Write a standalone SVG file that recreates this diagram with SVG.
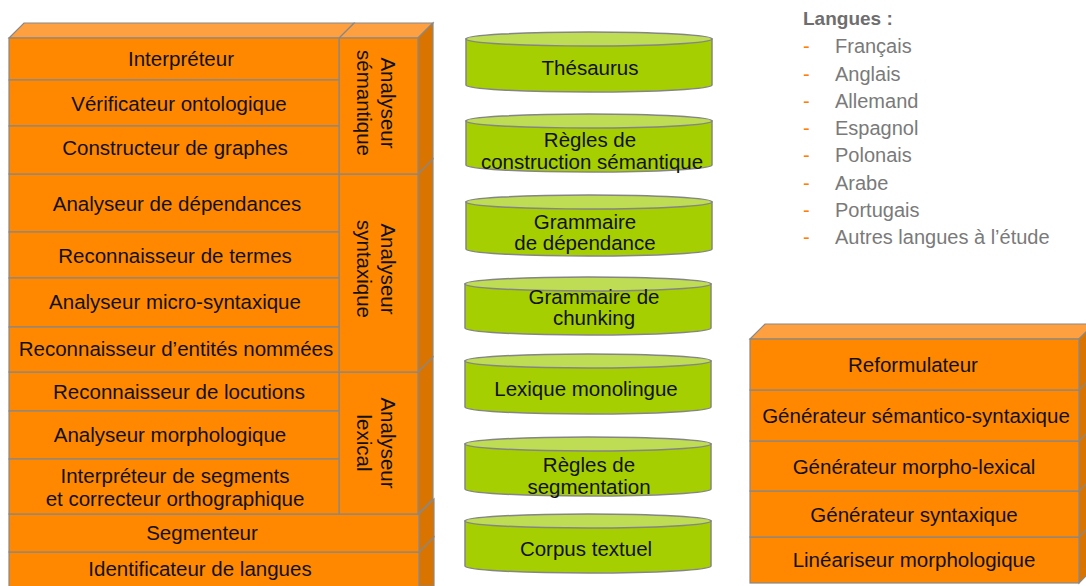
<svg xmlns="http://www.w3.org/2000/svg" width="1086" height="586" viewBox="0 0 1086 586">
<style>
.f{fill:#ff8800;stroke:#888;stroke-width:1.2}
.t{fill:#ffa040;stroke:#888;stroke-width:1.2}
.s{fill:#d97400;stroke:#888;stroke-width:1.2}
.lb{font-family:"Liberation Sans",Arial,sans-serif;font-size:20.5px;fill:#111;text-anchor:middle}
.cb{fill:#a5cf00;stroke:#858585;stroke-width:1.5}
.ct{fill:#bedd55;stroke:#858585;stroke-width:1.5}
.lg{font-family:"Liberation Sans",Arial,sans-serif;font-size:20px;fill:#7a7a7a}
.dash{font-family:"Liberation Sans",Arial,sans-serif;font-size:20px;fill:#ff8000}
</style>
<rect width="1086" height="586" fill="#fff"/>

<!-- Left stack -->
<g id="identificateur">
<polygon class="s" points="419,552 434,537 434,586 419,586"/>
<rect class="f" x="9" y="552" width="410" height="40"/>
<text class="lb" x="200" y="576">Identificateur de langues</text>
</g>
<g id="segmenteur">
<polygon class="s" points="419,514 434,499 434,537 419,552"/>
<rect class="f" x="9" y="514" width="410" height="38"/>
<text class="lb" x="202" y="540">Segmenteur</text>
</g>
<g id="analyseur-lexical">
<polygon class="s" points="418,372 433,357 433,499 418,514"/>
<rect class="f" x="339" y="372" width="79" height="142"/>
<text class="lb" transform="translate(378.5,443) rotate(90)"><tspan x="0" y="-2">Analyseur</tspan><tspan x="0" y="22">lexical</tspan></text>
</g>
<g id="reconnaisseur-locutions">
<rect class="f" x="9" y="372" width="330" height="39"/>
<text class="lb" x="179" y="399">Reconnaisseur de locutions</text>
</g>
<g id="analyseur-morphologique">
<rect class="f" x="9" y="411" width="330" height="48"/>
<text class="lb" x="170" y="442">Analyseur morphologique</text>
</g>
<g id="interpreteur-segments">
<rect class="f" x="9" y="459" width="330" height="55"/>
<text class="lb" x="175" y="483">Interpréteur de segments</text>
<text class="lb" x="175" y="506">et correcteur orthographique</text>
</g>
<g id="analyseur-syntaxique">
<polygon class="s" points="418,174 433,159 433,357 418,372"/>
<rect class="f" x="339" y="174" width="79" height="198"/>
<text class="lb" transform="translate(378.5,269) rotate(90)"><tspan x="0" y="-2">Analyseur</tspan><tspan x="0" y="22">syntaxique</tspan></text>
</g>
<g id="analyseur-dependances">
<rect class="f" x="9" y="174" width="330" height="58"/>
<text class="lb" x="177" y="211">Analyseur de dépendances</text>
</g>
<g id="reconnaisseur-termes">
<rect class="f" x="9" y="232" width="330" height="46"/>
<text class="lb" x="175" y="263">Reconnaisseur de termes</text>
</g>
<g id="analyseur-micro-syntaxique">
<rect class="f" x="9" y="278" width="330" height="49"/>
<text class="lb" x="175" y="309">Analyseur micro-syntaxique</text>
</g>
<g id="reconnaisseur-entites">
<rect class="f" x="9" y="327" width="330" height="45"/>
<text class="lb" x="176" y="356">Reconnaisseur d’entités nommées</text>
</g>
<g id="analyseur-semantique">
<polygon class="t" points="339,38 354,23 433,23 418,38"/>
<polygon class="s" points="418,38 433,23 433,159 418,174"/>
<rect class="f" x="339" y="38" width="79" height="136"/>
<text class="lb" transform="translate(378.5,103) rotate(90)"><tspan x="0" y="-2">Analyseur</tspan><tspan x="0" y="22">sémantique</tspan></text>
</g>
<g id="interpreteur">
<polygon class="t" points="9,38 24,23 354,23 339,38"/>
<rect class="f" x="9" y="38" width="330" height="42"/>
<text class="lb" x="181" y="66">Interpréteur</text>
</g>
<g id="verificateur">
<rect class="f" x="9" y="80" width="330" height="46"/>
<text class="lb" x="179" y="111">Vérificateur ontologique</text>
</g>
<g id="constructeur">
<rect class="f" x="9" y="126" width="330" height="48"/>
<text class="lb" x="175" y="155">Constructeur de graphes</text>
</g>

<!-- Cylinders -->
<g id="thesaurus">
<path class="cb" d="M466,39 L466,85 A123,7 0 0 0 712,85 L712,39 Z"/>
<ellipse class="ct" cx="589" cy="39" rx="123" ry="7"/>
<text class="lb" x="590" y="75">Thésaurus</text>
</g>
<g id="regles-construction">
<path class="cb" d="M466,121 L466,165 A123,7 0 0 0 712,165 L712,121 Z"/>
<ellipse class="ct" cx="589" cy="121" rx="123" ry="7"/>
<text class="lb" x="590" y="147">Règles de</text>
<text class="lb" x="592" y="169">construction sémantique</text>
</g>
<g id="grammaire-dependance">
<path class="cb" d="M466,202 L466,249 A123,7 0 0 0 712,249 L712,202 Z"/>
<ellipse class="ct" cx="589" cy="202" rx="123" ry="7"/>
<text class="lb" x="585" y="229">Grammaire</text>
<text class="lb" x="585" y="250">de dépendance</text>
</g>
<g id="grammaire-chunking">
<path class="cb" d="M465,284 L465,328 A123,7 0 0 0 711,328 L711,284 Z"/>
<ellipse class="ct" cx="588" cy="284" rx="123" ry="7"/>
<text class="lb" x="594" y="304">Grammaire de</text>
<text class="lb" x="594" y="325">chunking</text>
</g>
<g id="lexique">
<path class="cb" d="M465,361 L465,407 A123,7 0 0 0 711,407 L711,361 Z"/>
<ellipse class="ct" cx="588" cy="361" rx="123" ry="7"/>
<text class="lb" x="586" y="396">Lexique monolingue</text>
</g>
<g id="regles-segmentation">
<path class="cb" d="M465,444 L465,489 A123,7 0 0 0 711,489 L711,444 Z"/>
<ellipse class="ct" cx="588" cy="444" rx="123" ry="7"/>
<text class="lb" x="589" y="472">Règles de</text>
<text class="lb" x="589" y="494">segmentation</text>
</g>
<g id="corpus">
<path class="cb" d="M465,521 L465,566 A123,7 0 0 0 711,566 L711,521 Z"/>
<ellipse class="ct" cx="588" cy="521" rx="123" ry="7"/>
<text class="lb" x="586" y="556">Corpus textuel</text>
</g>

<!-- Right stack -->
<g id="linearisateur">
<polygon class="s" points="1079,537 1094,522 1094,568 1079,583"/>
<rect class="f" x="750" y="537" width="329" height="46"/>
<text class="lb" x="914" y="567">Linéariseur morphologique</text>
</g>
<g id="generateur-syntaxique">
<polygon class="s" points="1079,491 1094,476 1094,522 1079,537"/>
<rect class="f" x="750" y="491" width="329" height="46"/>
<text class="lb" x="914" y="522">Générateur syntaxique</text>
</g>
<g id="generateur-morpho-lexical">
<polygon class="s" points="1079,441 1094,426 1094,476 1079,491"/>
<rect class="f" x="750" y="441" width="329" height="50"/>
<text class="lb" x="914" y="474">Générateur morpho-lexical</text>
</g>
<g id="generateur-semantico">
<polygon class="s" points="1079,390 1094,375 1094,426 1079,441"/>
<rect class="f" x="750" y="390" width="329" height="51"/>
<text class="lb" x="916" y="423">Générateur sémantico-syntaxique</text>
</g>
<g id="reformulateur">
<polygon class="t" points="750,339 765,324 1094,324 1079,339"/>
<polygon class="s" points="1079,339 1094,324 1094,375 1079,390"/>
<rect class="f" x="750" y="339" width="329" height="51"/>
<text class="lb" x="913" y="372">Reformulateur</text>
</g>

<!-- Languages -->
<g id="langues">
<text x="803" y="25" style="font-family:'Liberation Sans',Arial,sans-serif;font-size:19px;font-weight:bold;fill:#6e6e6e">Langues :</text>
<text class="dash" x="803" y="53">-</text><text class="lg" x="835" y="53">Français</text>
<text class="dash" x="803" y="80.5">-</text><text class="lg" x="835" y="80.5">Anglais</text>
<text class="dash" x="803" y="107.5">-</text><text class="lg" x="835" y="107.5">Allemand</text>
<text class="dash" x="803" y="135">-</text><text class="lg" x="835" y="135">Espagnol</text>
<text class="dash" x="803" y="162">-</text><text class="lg" x="835" y="162">Polonais</text>
<text class="dash" x="803" y="189.5">-</text><text class="lg" x="835" y="189.5">Arabe</text>
<text class="dash" x="803" y="217">-</text><text class="lg" x="835" y="217">Portugais</text>
<text class="dash" x="803" y="244">-</text><text class="lg" x="835" y="244">Autres langues à l’étude</text>
</g>
<g id="connectors"></g>
</svg>
